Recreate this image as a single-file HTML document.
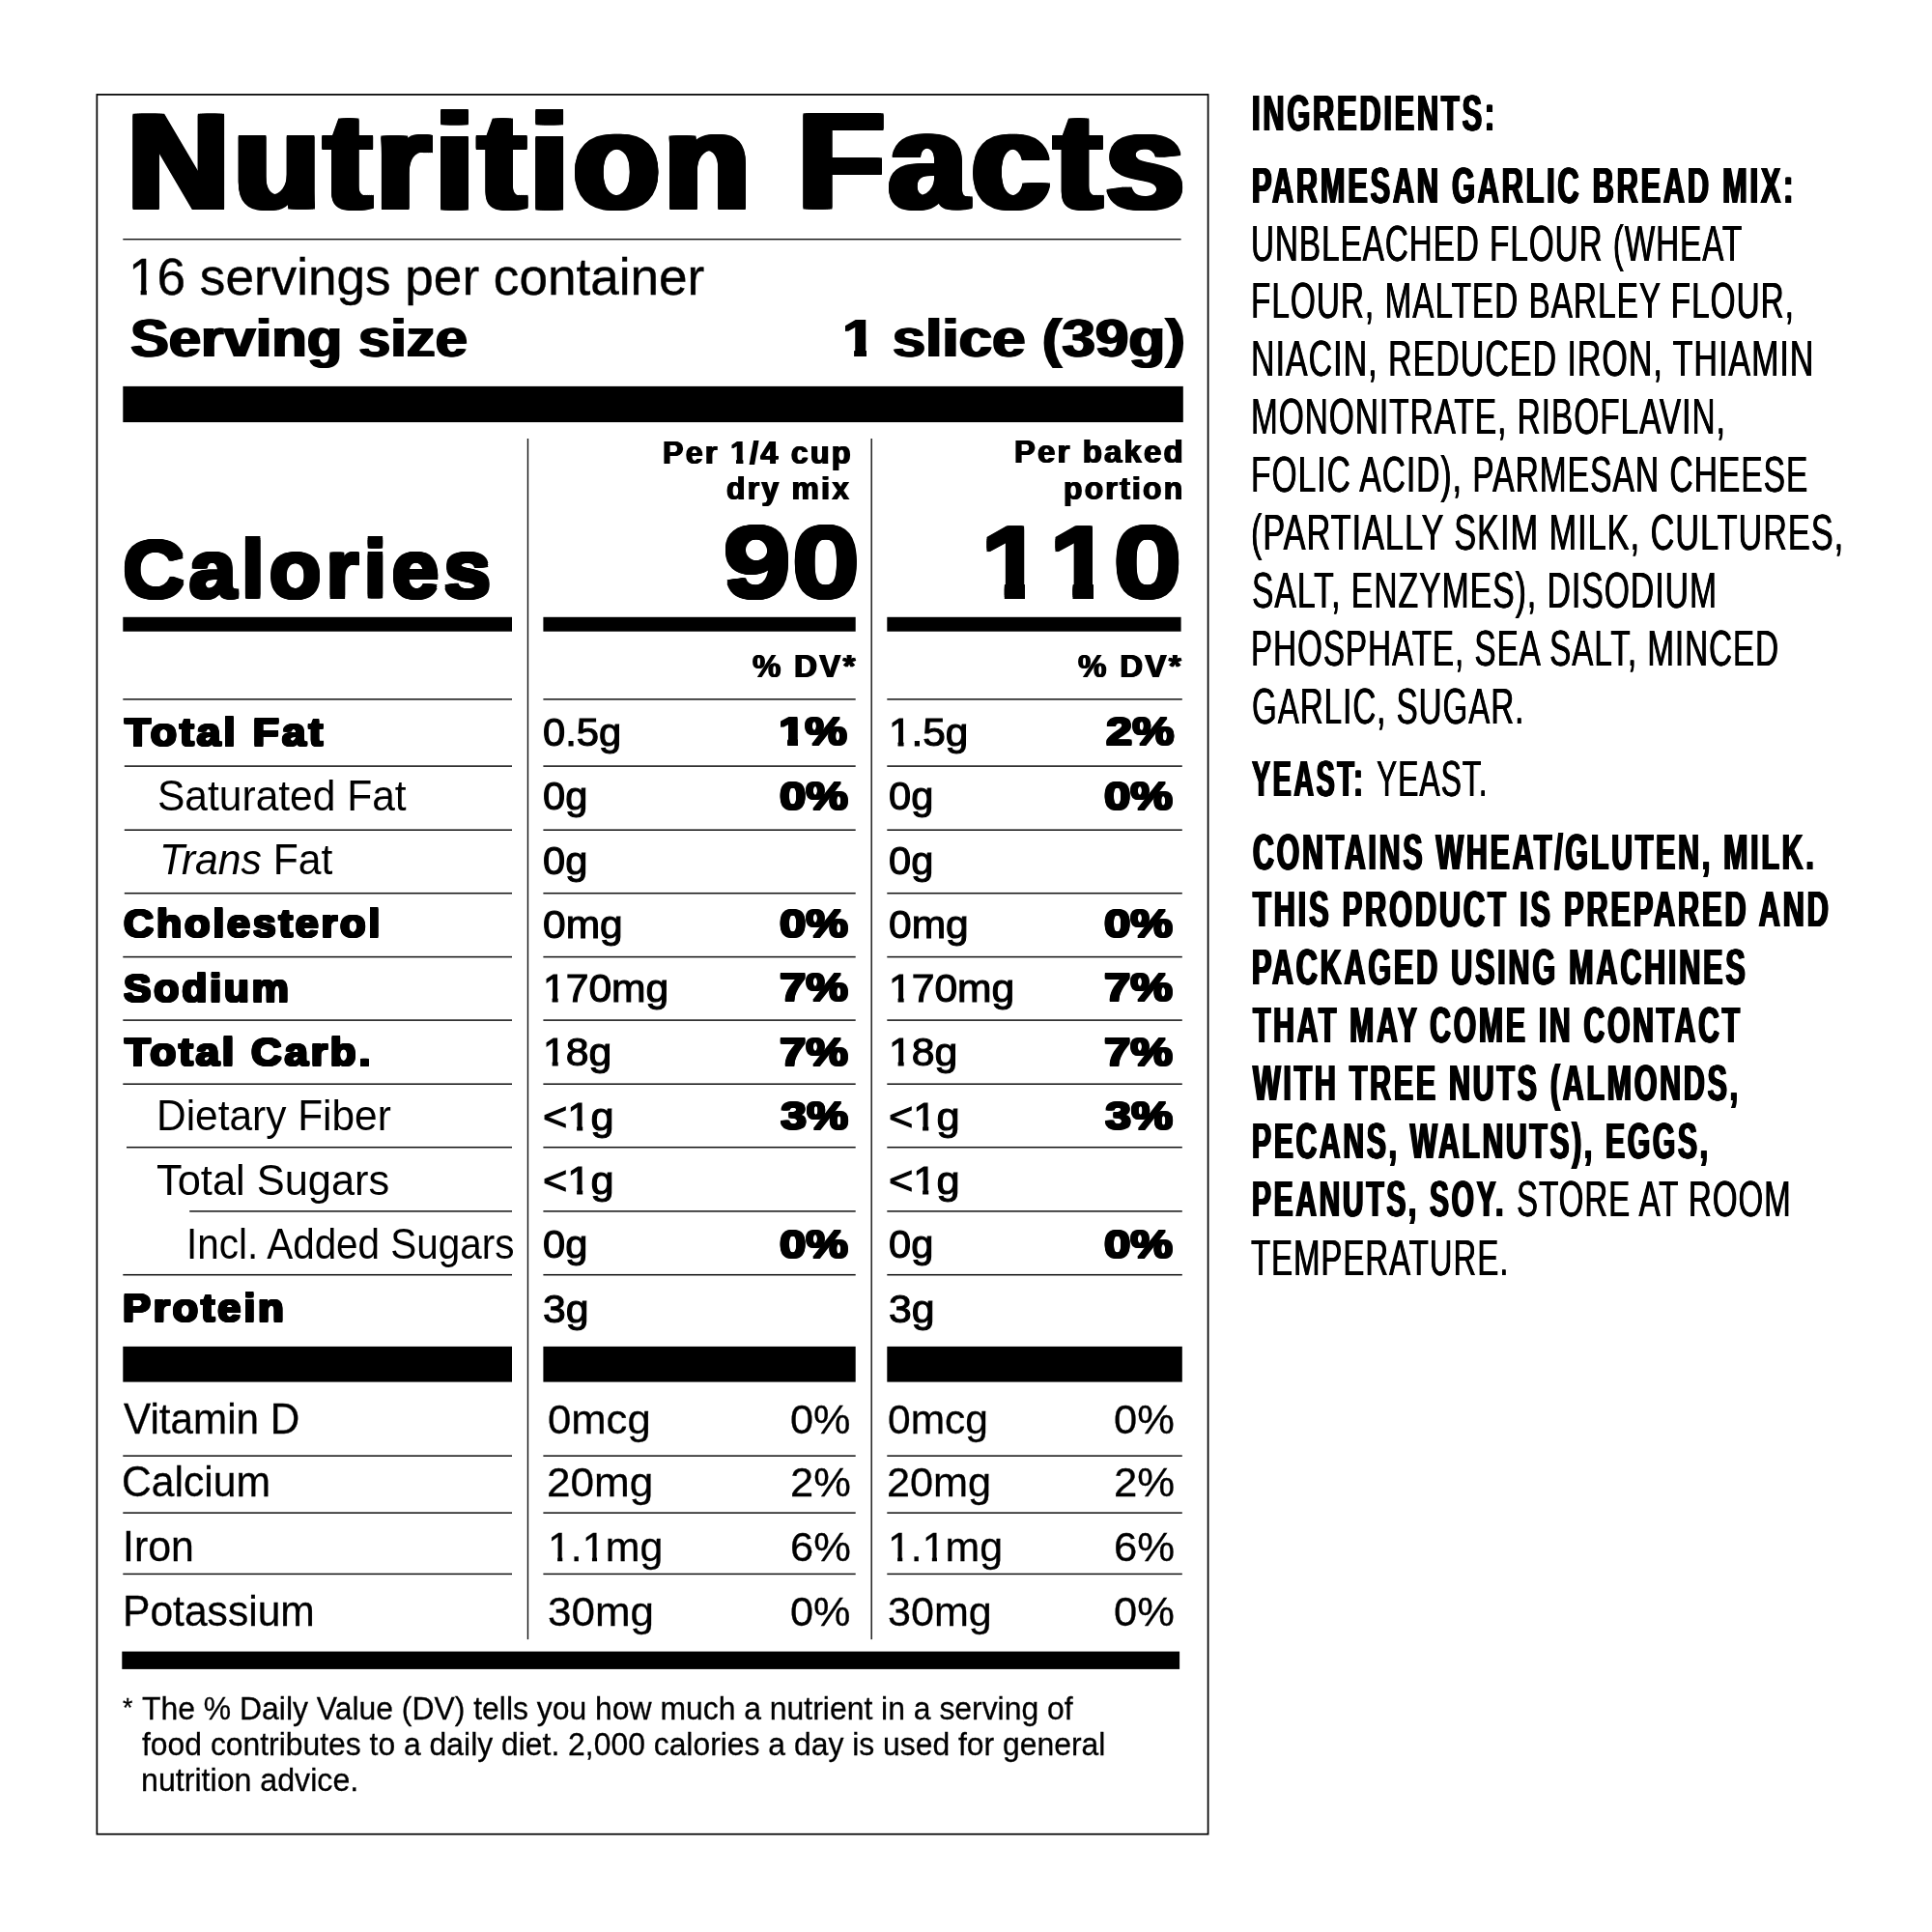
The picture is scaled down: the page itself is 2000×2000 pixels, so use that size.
<!DOCTYPE html>
<html><head><meta charset="utf-8"><title>Nutrition Facts</title>
<style>
html,body{margin:0;padding:0;background:#fff;}
body{width:2000px;height:2000px;position:relative;overflow:hidden;font-family:"Liberation Sans",sans-serif;color:#000;}
.t{position:absolute;line-height:1;white-space:pre;transform-origin:0 0;}
svg{position:absolute;left:0;top:0;}
#txt{position:absolute;left:0;top:0;width:2000px;height:2000px;will-change:transform;}
</style></head><body>
<svg width="2000" height="2000" viewBox="0 0 2000 2000">
<rect x="100.35" y="97.9" width="1150.25" height="1800.8" fill="none" stroke="#000" stroke-width="1.7"/>
<rect x="127.30" y="247.00" width="1095.30" height="1.40" fill="#111"/>
<rect x="127.30" y="399.90" width="1097.50" height="37.20" fill="#000"/>
<rect x="545.76" y="454.00" width="1.40" height="1243.10" fill="#111"/>
<rect x="901.50" y="454.00" width="1.40" height="1243.10" fill="#111"/>
<rect x="127.30" y="638.80" width="402.70" height="14.90" fill="#000"/>
<rect x="127.30" y="1393.90" width="402.70" height="36.70" fill="#000"/>
<rect x="562.40" y="638.80" width="323.30" height="14.90" fill="#000"/>
<rect x="562.40" y="1393.90" width="323.30" height="36.70" fill="#000"/>
<rect x="918.30" y="638.80" width="304.30" height="14.90" fill="#000"/>
<rect x="918.30" y="1393.90" width="305.50" height="36.70" fill="#000"/>
<rect x="127.30" y="723.15" width="402.70" height="1.50" fill="#111"/>
<rect x="562.40" y="723.15" width="323.30" height="1.50" fill="#111"/>
<rect x="918.30" y="723.15" width="305.50" height="1.50" fill="#111"/>
<rect x="128.80" y="792.35" width="401.20" height="1.50" fill="#111"/>
<rect x="562.40" y="792.35" width="323.30" height="1.50" fill="#111"/>
<rect x="918.30" y="792.35" width="305.50" height="1.50" fill="#111"/>
<rect x="128.80" y="858.45" width="401.20" height="1.50" fill="#111"/>
<rect x="562.40" y="858.45" width="323.30" height="1.50" fill="#111"/>
<rect x="918.30" y="858.45" width="305.50" height="1.50" fill="#111"/>
<rect x="128.80" y="923.95" width="401.20" height="1.50" fill="#111"/>
<rect x="562.40" y="923.95" width="323.30" height="1.50" fill="#111"/>
<rect x="918.30" y="923.95" width="305.50" height="1.50" fill="#111"/>
<rect x="127.30" y="989.85" width="402.70" height="1.50" fill="#111"/>
<rect x="562.40" y="989.85" width="323.30" height="1.50" fill="#111"/>
<rect x="918.30" y="989.85" width="305.50" height="1.50" fill="#111"/>
<rect x="127.30" y="1055.35" width="402.70" height="1.50" fill="#111"/>
<rect x="562.40" y="1055.35" width="323.30" height="1.50" fill="#111"/>
<rect x="918.30" y="1055.35" width="305.50" height="1.50" fill="#111"/>
<rect x="127.30" y="1121.45" width="402.70" height="1.50" fill="#111"/>
<rect x="562.40" y="1121.45" width="323.30" height="1.50" fill="#111"/>
<rect x="918.30" y="1121.45" width="305.50" height="1.50" fill="#111"/>
<rect x="131.00" y="1186.95" width="399.00" height="1.50" fill="#111"/>
<rect x="562.40" y="1186.95" width="323.30" height="1.50" fill="#111"/>
<rect x="918.30" y="1186.95" width="305.50" height="1.50" fill="#111"/>
<rect x="196.20" y="1253.15" width="333.80" height="1.50" fill="#111"/>
<rect x="562.40" y="1253.15" width="323.30" height="1.50" fill="#111"/>
<rect x="918.30" y="1253.15" width="305.50" height="1.50" fill="#111"/>
<rect x="127.30" y="1318.95" width="402.70" height="1.50" fill="#111"/>
<rect x="562.40" y="1318.95" width="323.30" height="1.50" fill="#111"/>
<rect x="918.30" y="1318.95" width="305.50" height="1.50" fill="#111"/>
<rect x="127.30" y="1506.35" width="402.70" height="1.50" fill="#111"/>
<rect x="562.40" y="1506.35" width="323.30" height="1.50" fill="#111"/>
<rect x="918.30" y="1506.35" width="305.50" height="1.50" fill="#111"/>
<rect x="127.30" y="1565.35" width="402.70" height="1.50" fill="#111"/>
<rect x="562.40" y="1565.35" width="323.30" height="1.50" fill="#111"/>
<rect x="918.30" y="1565.35" width="305.50" height="1.50" fill="#111"/>
<rect x="127.30" y="1628.65" width="402.70" height="1.50" fill="#111"/>
<rect x="562.40" y="1628.65" width="323.30" height="1.50" fill="#111"/>
<rect x="918.30" y="1628.65" width="305.50" height="1.50" fill="#111"/>
<rect x="126.30" y="1709.60" width="1094.80" height="18.30" fill="#000"/>
</svg>
<div id="txt">
<span class="t" style="left:132.46px;top:96.90px;font-weight:700;font-size:140.95px;text-shadow:-4.10px -1px 0 #000,-4.10px 0px 0 #000,-4.10px 1px 0 #000,-2.05px -1px 0 #000,-2.05px 0px 0 #000,-2.05px 1px 0 #000,0.00px -1px 0 #000,0.00px 1px 0 #000,2.05px -1px 0 #000,2.05px 0px 0 #000,2.05px 1px 0 #000,4.10px -1px 0 #000,4.10px 0px 0 #000,4.10px 1px 0 #000;letter-spacing:0.030em;transform:scaleX(1.0383)">Nutrition Facts</span>
<span class="t" style="left:134.59px;top:321.91px;font-weight:700;font-size:56.15px;text-shadow:-1.20px 0px 0 #000,1.20px 0px 0 #000;transform:scaleX(1.0652)">Serving size</span>
<span class="t" style="left:871.86px;top:321.91px;font-weight:700;font-size:56.15px;text-shadow:-1.20px 0px 0 #000,1.20px 0px 0 #000;transform:scaleX(1.1041)"><span style="display:inline-block;clip-path:polygon(-1em -1em,3em -1em,3em calc(0.7025em - 1.00px),calc(0.3750em + 1.50px) calc(0.7025em - 1.00px),calc(0.3750em + 1.50px) 3em,calc(0.2275em - 1.50px) 3em,calc(0.2275em - 1.50px) calc(0.7025em - 1.00px),-1em calc(0.7025em - 1.00px))">1</span> slice (39g)</span>
<span class="t" style="left:126.62px;top:548.02px;font-weight:700;font-size:83.05px;text-shadow:-1.60px -2px 0 #000,-1.60px 0px 0 #000,-1.60px 2px 0 #000,-0.80px -2px 0 #000,-0.80px 0px 0 #000,-0.80px 2px 0 #000,0.00px -2px 0 #000,0.00px 2px 0 #000,0.80px -2px 0 #000,0.80px 0px 0 #000,0.80px 2px 0 #000,1.60px -2px 0 #000,1.60px 0px 0 #000,1.60px 2px 0 #000;letter-spacing:0.050em;transform:scaleX(1.0690)">Calories</span>
<span class="t" style="left:748.02px;top:530.94px;font-weight:700;font-size:103.85px;text-shadow:-1.30px -2px 0 #000,-1.30px 0px 0 #000,-1.30px 2px 0 #000,-0.65px -2px 0 #000,-0.65px 0px 0 #000,-0.65px 2px 0 #000,0.00px -2px 0 #000,0.00px 2px 0 #000,0.65px -2px 0 #000,0.65px 0px 0 #000,0.65px 2px 0 #000,1.30px -2px 0 #000,1.30px 0px 0 #000,1.30px 2px 0 #000;transform:scaleX(1.2335)">90</span>
<span class="t" style="left:1014.63px;top:530.94px;font-weight:700;font-size:103.85px;text-shadow:-1.30px -2px 0 #000,-1.30px 0px 0 #000,-1.30px 2px 0 #000,-0.65px -2px 0 #000,-0.65px 0px 0 #000,-0.65px 2px 0 #000,0.00px -2px 0 #000,0.00px 2px 0 #000,0.65px -2px 0 #000,0.65px 0px 0 #000,0.65px 2px 0 #000,1.30px -2px 0 #000,1.30px 0px 0 #000,1.30px 2px 0 #000;transform:scaleX(1.1329)"><span style="display:inline-block;clip-path:polygon(-1em -1em,3em -1em,3em calc(0.7025em - 3.00px),calc(0.3750em + 1.60px) calc(0.7025em - 3.00px),calc(0.3750em + 1.60px) 3em,calc(0.2275em - 1.60px) 3em,calc(0.2275em - 1.60px) calc(0.7025em - 3.00px),-1em calc(0.7025em - 3.00px))">1</span></span>
<span class="t" style="left:1085.60px;top:530.94px;font-weight:700;font-size:103.85px;text-shadow:-1.30px -2px 0 #000,-1.30px 0px 0 #000,-1.30px 2px 0 #000,-0.65px -2px 0 #000,-0.65px 0px 0 #000,-0.65px 2px 0 #000,0.00px -2px 0 #000,0.00px 2px 0 #000,0.65px -2px 0 #000,0.65px 0px 0 #000,0.65px 2px 0 #000,1.30px -2px 0 #000,1.30px 0px 0 #000,1.30px 2px 0 #000;transform:scaleX(1.1286)"><span style="display:inline-block;clip-path:polygon(-1em -1em,3em -1em,3em calc(0.7025em - 3.00px),calc(0.3750em + 1.60px) calc(0.7025em - 3.00px),calc(0.3750em + 1.60px) 3em,calc(0.2275em - 1.60px) 3em,calc(0.2275em - 1.60px) calc(0.7025em - 3.00px),-1em calc(0.7025em - 3.00px))">1</span></span>
<span class="t" style="left:1152.18px;top:530.94px;font-weight:700;font-size:103.85px;text-shadow:-1.30px -2px 0 #000,-1.30px 0px 0 #000,-1.30px 2px 0 #000,-0.65px -2px 0 #000,-0.65px 0px 0 #000,-0.65px 2px 0 #000,0.00px -2px 0 #000,0.00px 2px 0 #000,0.65px -2px 0 #000,0.65px 0px 0 #000,0.65px 2px 0 #000,1.30px -2px 0 #000,1.30px 0px 0 #000,1.30px 2px 0 #000;transform:scaleX(1.2459)">0</span>
<span class="t" style="left:686.10px;top:451.83px;font-weight:700;font-size:33.16px;text-shadow:-0.85px 0px 0 #000,0.85px 0px 0 #000;letter-spacing:0.070em;transform:scaleX(0.9721)">Per <span style="display:inline-block;clip-path:polygon(-1em -1em,3em -1em,3em calc(0.7025em - 1.00px),calc(0.3750em + 1.15px) calc(0.7025em - 1.00px),calc(0.3750em + 1.15px) 3em,calc(0.2275em - 1.15px) 3em,calc(0.2275em - 1.15px) calc(0.7025em - 1.00px),-1em calc(0.7025em - 1.00px))">1</span>/4 cup</span>
<span class="t" style="left:752.36px;top:488.83px;font-weight:700;font-size:33.16px;text-shadow:-0.85px 0px 0 #000,0.85px 0px 0 #000;letter-spacing:0.070em;transform:scaleX(0.9630)">dry mix</span>
<span class="t" style="left:1049.89px;top:450.98px;font-weight:700;font-size:33.16px;text-shadow:-0.85px 0px 0 #000,0.85px 0px 0 #000;letter-spacing:0.070em;transform:scaleX(0.9855)">Per baked</span>
<span class="t" style="left:1100.82px;top:488.93px;font-weight:700;font-size:33.16px;text-shadow:-0.85px 0px 0 #000,0.85px 0px 0 #000;letter-spacing:0.070em;transform:scaleX(0.9621)">portion</span>
<span class="t" style="left:778.50px;top:673.80px;font-weight:700;font-size:32.73px;text-shadow:-0.85px 0px 0 #000,0.85px 0px 0 #000;letter-spacing:0.070em;transform:scaleX(1.0082)">% DV*</span>
<span class="t" style="left:1116.00px;top:673.80px;font-weight:700;font-size:32.73px;text-shadow:-0.85px 0px 0 #000,0.85px 0px 0 #000;letter-spacing:0.070em;transform:scaleX(1.0110)">% DV*</span>
<span class="t" style="left:129.07px;top:736.92px;font-weight:700;font-size:41.45px;text-shadow:-1.25px -1px 0 #000,-1.25px 0px 0 #000,-1.25px 1px 0 #000,-0.62px -1px 0 #000,-0.62px 0px 0 #000,-0.62px 1px 0 #000,0.00px -1px 0 #000,0.00px 1px 0 #000,0.62px -1px 0 #000,0.62px 0px 0 #000,0.62px 1px 0 #000,1.25px -1px 0 #000,1.25px 0px 0 #000,1.25px 1px 0 #000;letter-spacing:0.065em;transform:scaleX(1.0741)">Total Fat</span>
<span class="t" style="left:127.55px;top:935.17px;font-weight:700;font-size:41.45px;text-shadow:-1.25px -1px 0 #000,-1.25px 0px 0 #000,-1.25px 1px 0 #000,-0.62px -1px 0 #000,-0.62px 0px 0 #000,-0.62px 1px 0 #000,0.00px -1px 0 #000,0.00px 1px 0 #000,0.62px -1px 0 #000,0.62px 0px 0 #000,0.62px 1px 0 #000,1.25px -1px 0 #000,1.25px 0px 0 #000,1.25px 1px 0 #000;letter-spacing:0.065em;transform:scaleX(1.0407)">Cholesterol</span>
<span class="t" style="left:127.90px;top:1001.87px;font-weight:700;font-size:41.45px;text-shadow:-1.25px -1px 0 #000,-1.25px 0px 0 #000,-1.25px 1px 0 #000,-0.62px -1px 0 #000,-0.62px 0px 0 #000,-0.62px 1px 0 #000,0.00px -1px 0 #000,0.00px 1px 0 #000,0.62px -1px 0 #000,0.62px 0px 0 #000,0.62px 1px 0 #000,1.25px -1px 0 #000,1.25px 0px 0 #000,1.25px 1px 0 #000;letter-spacing:0.065em;transform:scaleX(1.0320)">Sodium</span>
<span class="t" style="left:128.96px;top:1067.77px;font-weight:700;font-size:41.45px;text-shadow:-1.25px -1px 0 #000,-1.25px 0px 0 #000,-1.25px 1px 0 #000,-0.62px -1px 0 #000,-0.62px 0px 0 #000,-0.62px 1px 0 #000,0.00px -1px 0 #000,0.00px 1px 0 #000,0.62px -1px 0 #000,0.62px 0px 0 #000,0.62px 1px 0 #000,1.25px -1px 0 #000,1.25px 0px 0 #000,1.25px 1px 0 #000;letter-spacing:0.065em;transform:scaleX(1.0598)">Total Carb.</span>
<span class="t" style="left:127.40px;top:1332.97px;font-weight:700;font-size:41.45px;text-shadow:-1.25px -1px 0 #000,-1.25px 0px 0 #000,-1.25px 1px 0 #000,-0.62px -1px 0 #000,-0.62px 0px 0 #000,-0.62px 1px 0 #000,0.00px -1px 0 #000,0.00px 1px 0 #000,0.62px -1px 0 #000,0.62px 0px 0 #000,0.62px 1px 0 #000,1.25px -1px 0 #000,1.25px 0px 0 #000,1.25px 1px 0 #000;letter-spacing:0.065em;transform:scaleX(1.0490)">Protein</span>
<span class="t" style="left:805.91px;top:736.87px;font-weight:700;font-size:41.16px;text-shadow:-1.00px -1px 0 #000,-1.00px 0px 0 #000,-1.00px 1px 0 #000,0.00px -1px 0 #000,0.00px 1px 0 #000,1.00px -1px 0 #000,1.00px 0px 0 #000,1.00px 1px 0 #000;transform:scaleX(1.1913)"><span style="display:inline-block;clip-path:polygon(-1em -1em,3em -1em,3em calc(0.7025em - 2.00px),calc(0.3750em + 1.30px) calc(0.7025em - 2.00px),calc(0.3750em + 1.30px) 3em,calc(0.2275em - 1.30px) 3em,calc(0.2275em - 1.30px) calc(0.7025em - 2.00px),-1em calc(0.7025em - 2.00px))">1</span>%</span>
<span class="t" style="left:1145.10px;top:736.87px;font-weight:700;font-size:41.16px;text-shadow:-1.00px -1px 0 #000,-1.00px 0px 0 #000,-1.00px 1px 0 #000,0.00px -1px 0 #000,0.00px 1px 0 #000,1.00px -1px 0 #000,1.00px 0px 0 #000,1.00px 1px 0 #000;transform:scaleX(1.1864)">2%</span>
<span class="t" style="left:807.20px;top:803.77px;font-weight:700;font-size:41.16px;text-shadow:-1.00px -1px 0 #000,-1.00px 0px 0 #000,-1.00px 1px 0 #000,0.00px -1px 0 #000,0.00px 1px 0 #000,1.00px -1px 0 #000,1.00px 0px 0 #000,1.00px 1px 0 #000;transform:scaleX(1.1932)">0%</span>
<span class="t" style="left:1143.20px;top:803.77px;font-weight:700;font-size:41.16px;text-shadow:-1.00px -1px 0 #000,-1.00px 0px 0 #000,-1.00px 1px 0 #000,0.00px -1px 0 #000,0.00px 1px 0 #000,1.00px -1px 0 #000,1.00px 0px 0 #000,1.00px 1px 0 #000;transform:scaleX(1.1932)">0%</span>
<span class="t" style="left:807.20px;top:935.97px;font-weight:700;font-size:41.16px;text-shadow:-1.00px -1px 0 #000,-1.00px 0px 0 #000,-1.00px 1px 0 #000,0.00px -1px 0 #000,0.00px 1px 0 #000,1.00px -1px 0 #000,1.00px 0px 0 #000,1.00px 1px 0 #000;transform:scaleX(1.1932)">0%</span>
<span class="t" style="left:1143.20px;top:935.97px;font-weight:700;font-size:41.16px;text-shadow:-1.00px -1px 0 #000,-1.00px 0px 0 #000,-1.00px 1px 0 #000,0.00px -1px 0 #000,0.00px 1px 0 #000,1.00px -1px 0 #000,1.00px 0px 0 #000,1.00px 1px 0 #000;transform:scaleX(1.1932)">0%</span>
<span class="t" style="left:807.20px;top:1001.92px;font-weight:700;font-size:41.16px;text-shadow:-1.00px -1px 0 #000,-1.00px 0px 0 #000,-1.00px 1px 0 #000,0.00px -1px 0 #000,0.00px 1px 0 #000,1.00px -1px 0 #000,1.00px 0px 0 #000,1.00px 1px 0 #000;transform:scaleX(1.1932)">7%</span>
<span class="t" style="left:1143.20px;top:1001.92px;font-weight:700;font-size:41.16px;text-shadow:-1.00px -1px 0 #000,-1.00px 0px 0 #000,-1.00px 1px 0 #000,0.00px -1px 0 #000,0.00px 1px 0 #000,1.00px -1px 0 #000,1.00px 0px 0 #000,1.00px 1px 0 #000;transform:scaleX(1.1932)">7%</span>
<span class="t" style="left:807.20px;top:1068.82px;font-weight:700;font-size:41.16px;text-shadow:-1.00px -1px 0 #000,-1.00px 0px 0 #000,-1.00px 1px 0 #000,0.00px -1px 0 #000,0.00px 1px 0 #000,1.00px -1px 0 #000,1.00px 0px 0 #000,1.00px 1px 0 #000;transform:scaleX(1.1932)">7%</span>
<span class="t" style="left:1143.20px;top:1068.82px;font-weight:700;font-size:41.16px;text-shadow:-1.00px -1px 0 #000,-1.00px 0px 0 #000,-1.00px 1px 0 #000,0.00px -1px 0 #000,0.00px 1px 0 #000,1.00px -1px 0 #000,1.00px 0px 0 #000,1.00px 1px 0 #000;transform:scaleX(1.1932)">7%</span>
<span class="t" style="left:808.00px;top:1134.92px;font-weight:700;font-size:41.16px;text-shadow:-1.00px -1px 0 #000,-1.00px 0px 0 #000,-1.00px 1px 0 #000,0.00px -1px 0 #000,0.00px 1px 0 #000,1.00px -1px 0 #000,1.00px 0px 0 #000,1.00px 1px 0 #000;transform:scaleX(1.1798)">3%</span>
<span class="t" style="left:1144.00px;top:1134.92px;font-weight:700;font-size:41.16px;text-shadow:-1.00px -1px 0 #000,-1.00px 0px 0 #000,-1.00px 1px 0 #000,0.00px -1px 0 #000,0.00px 1px 0 #000,1.00px -1px 0 #000,1.00px 0px 0 #000,1.00px 1px 0 #000;transform:scaleX(1.1798)">3%</span>
<span class="t" style="left:807.20px;top:1267.82px;font-weight:700;font-size:41.16px;text-shadow:-1.00px -1px 0 #000,-1.00px 0px 0 #000,-1.00px 1px 0 #000,0.00px -1px 0 #000,0.00px 1px 0 #000,1.00px -1px 0 #000,1.00px 0px 0 #000,1.00px 1px 0 #000;transform:scaleX(1.1932)">0%</span>
<span class="t" style="left:1143.20px;top:1267.82px;font-weight:700;font-size:41.16px;text-shadow:-1.00px -1px 0 #000,-1.00px 0px 0 #000,-1.00px 1px 0 #000,0.00px -1px 0 #000,0.00px 1px 0 #000,1.00px -1px 0 #000,1.00px 0px 0 #000,1.00px 1px 0 #000;transform:scaleX(1.1932)">0%</span>
<span class="t" style="left:133.15px;top:259.79px;font-weight:400;font-size:53.09px;-webkit-text-stroke:0.40px #000;transform:scaleX(1.0005)"><span style="display:inline-block;clip-path:polygon(-1em -1em,3em -1em,3em calc(0.7300em - 1.20px),calc(0.3450em + 0.50px) calc(0.7300em - 1.20px),calc(0.3450em + 0.50px) 3em,calc(0.2475em - 0.50px) 3em,calc(0.2475em - 0.50px) calc(0.7300em - 1.20px),-1em calc(0.7300em - 1.20px))">1</span>6 servings per container</span>
<span class="t" style="left:162.56px;top:801.98px;font-weight:400;font-size:43.93px;transform:scaleX(0.9683)">Saturated Fat</span>
<span class="t" style="left:165.02px;top:867.98px;font-weight:400;font-size:43.93px;transform:scaleX(0.9710)"><i>Trans</i> Fat</span>
<span class="t" style="left:162.46px;top:1132.78px;font-weight:400;font-size:43.93px;transform:scaleX(0.9660)">Dietary Fiber</span>
<span class="t" style="left:162.31px;top:1199.78px;font-weight:400;font-size:43.93px;transform:scaleX(0.9881)">Total Sugars</span>
<span class="t" style="left:192.52px;top:1265.93px;font-weight:400;font-size:43.93px;transform:scaleX(0.9207)">Incl. Added Sugars</span>
<span class="t" style="left:562.18px;top:737.76px;font-weight:400;font-size:40.87px;-webkit-text-stroke:1.10px #000;transform:scaleX(1.0213)">0.5g</span>
<span class="t" style="left:919.80px;top:737.76px;font-weight:400;font-size:40.87px;-webkit-text-stroke:1.10px #000;transform:scaleX(1.0359)"><span style="display:inline-block;clip-path:polygon(-1em -1em,3em -1em,3em calc(0.7300em - 1.55px),calc(0.3450em + 0.85px) calc(0.7300em - 1.55px),calc(0.3450em + 0.85px) 3em,calc(0.2475em - 0.85px) 3em,calc(0.2475em - 0.85px) calc(0.7300em - 1.55px),-1em calc(0.7300em - 1.55px))">1</span>.5g</span>
<span class="t" style="left:562.18px;top:803.91px;font-weight:400;font-size:40.87px;-webkit-text-stroke:1.10px #000;transform:scaleX(1.0181)">0g</span>
<span class="t" style="left:919.83px;top:803.91px;font-weight:400;font-size:40.87px;-webkit-text-stroke:1.10px #000;transform:scaleX(1.0181)">0g</span>
<span class="t" style="left:562.18px;top:870.76px;font-weight:400;font-size:40.87px;-webkit-text-stroke:1.10px #000;transform:scaleX(1.0181)">0g</span>
<span class="t" style="left:919.83px;top:870.76px;font-weight:400;font-size:40.87px;-webkit-text-stroke:1.10px #000;transform:scaleX(1.0181)">0g</span>
<span class="t" style="left:562.16px;top:936.86px;font-weight:400;font-size:40.87px;-webkit-text-stroke:1.10px #000;transform:scaleX(1.0415)">0mg</span>
<span class="t" style="left:919.81px;top:936.86px;font-weight:400;font-size:40.87px;-webkit-text-stroke:1.10px #000;transform:scaleX(1.0415)">0mg</span>
<span class="t" style="left:561.52px;top:1002.81px;font-weight:400;font-size:40.87px;-webkit-text-stroke:1.10px #000;transform:scaleX(1.0429)"><span style="display:inline-block;clip-path:polygon(-1em -1em,3em -1em,3em calc(0.7300em - 1.55px),calc(0.3450em + 0.85px) calc(0.7300em - 1.55px),calc(0.3450em + 0.85px) 3em,calc(0.2475em - 0.85px) 3em,calc(0.2475em - 0.85px) calc(0.7300em - 1.55px),-1em calc(0.7300em - 1.55px))">1</span>70mg</span>
<span class="t" style="left:919.77px;top:1002.81px;font-weight:400;font-size:40.87px;-webkit-text-stroke:1.10px #000;transform:scaleX(1.0429)"><span style="display:inline-block;clip-path:polygon(-1em -1em,3em -1em,3em calc(0.7300em - 1.55px),calc(0.3450em + 0.85px) calc(0.7300em - 1.55px),calc(0.3450em + 0.85px) 3em,calc(0.2475em - 0.85px) 3em,calc(0.2475em - 0.85px) calc(0.7300em - 1.55px),-1em calc(0.7300em - 1.55px))">1</span>70mg</span>
<span class="t" style="left:561.51px;top:1068.96px;font-weight:400;font-size:40.87px;-webkit-text-stroke:1.10px #000;transform:scaleX(1.0476)"><span style="display:inline-block;clip-path:polygon(-1em -1em,3em -1em,3em calc(0.7300em - 1.55px),calc(0.3450em + 0.85px) calc(0.7300em - 1.55px),calc(0.3450em + 0.85px) 3em,calc(0.2475em - 0.85px) 3em,calc(0.2475em - 0.85px) calc(0.7300em - 1.55px),-1em calc(0.7300em - 1.55px))">1</span>8g</span>
<span class="t" style="left:919.76px;top:1068.96px;font-weight:400;font-size:40.87px;-webkit-text-stroke:1.10px #000;transform:scaleX(1.0476)"><span style="display:inline-block;clip-path:polygon(-1em -1em,3em -1em,3em calc(0.7300em - 1.55px),calc(0.3450em + 0.85px) calc(0.7300em - 1.55px),calc(0.3450em + 0.85px) 3em,calc(0.2475em - 0.85px) 3em,calc(0.2475em - 0.85px) calc(0.7300em - 1.55px),-1em calc(0.7300em - 1.55px))">1</span>8g</span>
<span class="t" style="left:561.89px;top:1135.81px;font-weight:400;font-size:40.87px;-webkit-text-stroke:1.10px #000;transform:scaleX(1.0606)">&lt;<span style="display:inline-block;clip-path:polygon(-1em -1em,3em -1em,3em calc(0.7300em - 1.55px),calc(0.3450em + 0.85px) calc(0.7300em - 1.55px),calc(0.3450em + 0.85px) 3em,calc(0.2475em - 0.85px) 3em,calc(0.2475em - 0.85px) calc(0.7300em - 1.55px),-1em calc(0.7300em - 1.55px))">1</span>g</span>
<span class="t" style="left:919.54px;top:1135.81px;font-weight:400;font-size:40.87px;-webkit-text-stroke:1.10px #000;transform:scaleX(1.0606)">&lt;<span style="display:inline-block;clip-path:polygon(-1em -1em,3em -1em,3em calc(0.7300em - 1.55px),calc(0.3450em + 0.85px) calc(0.7300em - 1.55px),calc(0.3450em + 0.85px) 3em,calc(0.2475em - 0.85px) 3em,calc(0.2475em - 0.85px) calc(0.7300em - 1.55px),-1em calc(0.7300em - 1.55px))">1</span>g</span>
<span class="t" style="left:561.89px;top:1201.81px;font-weight:400;font-size:40.87px;-webkit-text-stroke:1.10px #000;transform:scaleX(1.0606)">&lt;<span style="display:inline-block;clip-path:polygon(-1em -1em,3em -1em,3em calc(0.7300em - 1.55px),calc(0.3450em + 0.85px) calc(0.7300em - 1.55px),calc(0.3450em + 0.85px) 3em,calc(0.2475em - 0.85px) 3em,calc(0.2475em - 0.85px) calc(0.7300em - 1.55px),-1em calc(0.7300em - 1.55px))">1</span>g</span>
<span class="t" style="left:919.54px;top:1201.81px;font-weight:400;font-size:40.87px;-webkit-text-stroke:1.10px #000;transform:scaleX(1.0606)">&lt;<span style="display:inline-block;clip-path:polygon(-1em -1em,3em -1em,3em calc(0.7300em - 1.55px),calc(0.3450em + 0.85px) calc(0.7300em - 1.55px),calc(0.3450em + 0.85px) 3em,calc(0.2475em - 0.85px) 3em,calc(0.2475em - 0.85px) calc(0.7300em - 1.55px),-1em calc(0.7300em - 1.55px))">1</span>g</span>
<span class="t" style="left:562.18px;top:1267.96px;font-weight:400;font-size:40.87px;-webkit-text-stroke:1.10px #000;transform:scaleX(1.0181)">0g</span>
<span class="t" style="left:919.83px;top:1267.96px;font-weight:400;font-size:40.87px;-webkit-text-stroke:1.10px #000;transform:scaleX(1.0181)">0g</span>
<span class="t" style="left:562.15px;top:1334.91px;font-weight:400;font-size:40.87px;-webkit-text-stroke:1.10px #000;transform:scaleX(1.0465)">3g</span>
<span class="t" style="left:919.80px;top:1334.91px;font-weight:400;font-size:40.87px;-webkit-text-stroke:1.10px #000;transform:scaleX(1.0465)">3g</span>
<span class="t" style="left:127.90px;top:1446.80px;font-weight:400;font-size:43.78px;-webkit-text-stroke:0.30px #000;transform:scaleX(0.9647)">Vitamin D</span>
<span class="t" style="left:126.45px;top:1511.95px;font-weight:400;font-size:43.78px;-webkit-text-stroke:0.30px #000;transform:scaleX(0.9750)">Calcium</span>
<span class="t" style="left:126.69px;top:1578.75px;font-weight:400;font-size:43.78px;-webkit-text-stroke:0.30px #000;transform:scaleX(0.9786)">Iron</span>
<span class="t" style="left:126.66px;top:1645.90px;font-weight:400;font-size:43.78px;-webkit-text-stroke:0.30px #000;transform:scaleX(0.9731)">Potassium</span>
<span class="t" style="left:566.58px;top:1448.78px;font-weight:400;font-size:42.33px;-webkit-text-stroke:0.30px #000;transform:scaleX(1.0309)">0mcg</span>
<span class="t" style="left:818.10px;top:1448.78px;font-weight:400;font-size:42.33px;-webkit-text-stroke:0.30px #000;transform:scaleX(1.0207)">0%</span>
<span class="t" style="left:918.73px;top:1448.78px;font-weight:400;font-size:42.33px;-webkit-text-stroke:0.30px #000;transform:scaleX(1.0037)">0mcg</span>
<span class="t" style="left:1153.19px;top:1448.78px;font-weight:400;font-size:42.33px;-webkit-text-stroke:0.30px #000;transform:scaleX(1.0259)">0%</span>
<span class="t" style="left:566.22px;top:1513.93px;font-weight:400;font-size:42.33px;-webkit-text-stroke:0.30px #000;transform:scaleX(1.0421)">20mg</span>
<span class="t" style="left:817.75px;top:1513.93px;font-weight:400;font-size:42.33px;-webkit-text-stroke:0.30px #000;transform:scaleX(1.0266)">2%</span>
<span class="t" style="left:918.36px;top:1513.93px;font-weight:400;font-size:42.33px;-webkit-text-stroke:0.30px #000;transform:scaleX(1.0214)">20mg</span>
<span class="t" style="left:1152.84px;top:1513.93px;font-weight:400;font-size:42.33px;-webkit-text-stroke:0.30px #000;transform:scaleX(1.0318)">2%</span>
<span class="t" style="left:566.65px;top:1580.98px;font-weight:400;font-size:42.33px;-webkit-text-stroke:0.30px #000;transform:scaleX(1.0135)"><span style="display:inline-block;clip-path:polygon(-1em -1em,3em -1em,3em calc(0.7300em - 1.15px),calc(0.3450em + 0.45px) calc(0.7300em - 1.15px),calc(0.3450em + 0.45px) 3em,calc(0.2475em - 0.45px) 3em,calc(0.2475em - 0.45px) calc(0.7300em - 1.15px),-1em calc(0.7300em - 1.15px))">1</span>.<span style="display:inline-block;clip-path:polygon(-1em -1em,3em -1em,3em calc(0.7300em - 1.15px),calc(0.3450em + 0.45px) calc(0.7300em - 1.15px),calc(0.3450em + 0.45px) 3em,calc(0.2475em - 0.45px) 3em,calc(0.2475em - 0.45px) calc(0.7300em - 1.15px),-1em calc(0.7300em - 1.15px))">1</span>mg</span>
<span class="t" style="left:817.75px;top:1580.98px;font-weight:400;font-size:42.33px;-webkit-text-stroke:0.30px #000;transform:scaleX(1.0266)">6%</span>
<span class="t" style="left:918.95px;top:1580.98px;font-weight:400;font-size:42.33px;-webkit-text-stroke:0.30px #000;transform:scaleX(1.0117)"><span style="display:inline-block;clip-path:polygon(-1em -1em,3em -1em,3em calc(0.7300em - 1.15px),calc(0.3450em + 0.45px) calc(0.7300em - 1.15px),calc(0.3450em + 0.45px) 3em,calc(0.2475em - 0.45px) 3em,calc(0.2475em - 0.45px) calc(0.7300em - 1.15px),-1em calc(0.7300em - 1.15px))">1</span>.<span style="display:inline-block;clip-path:polygon(-1em -1em,3em -1em,3em calc(0.7300em - 1.15px),calc(0.3450em + 0.45px) calc(0.7300em - 1.15px),calc(0.3450em + 0.45px) 3em,calc(0.2475em - 0.45px) 3em,calc(0.2475em - 0.45px) calc(0.7300em - 1.15px),-1em calc(0.7300em - 1.15px))">1</span>mg</span>
<span class="t" style="left:1152.84px;top:1580.98px;font-weight:400;font-size:42.33px;-webkit-text-stroke:0.30px #000;transform:scaleX(1.0318)">6%</span>
<span class="t" style="left:566.57px;top:1647.88px;font-weight:400;font-size:42.33px;-webkit-text-stroke:0.30px #000;transform:scaleX(1.0387)">30mg</span>
<span class="t" style="left:818.10px;top:1647.88px;font-weight:400;font-size:42.33px;-webkit-text-stroke:0.30px #000;transform:scaleX(1.0207)">0%</span>
<span class="t" style="left:918.70px;top:1647.88px;font-weight:400;font-size:42.33px;-webkit-text-stroke:0.30px #000;transform:scaleX(1.0180)">30mg</span>
<span class="t" style="left:1153.19px;top:1647.88px;font-weight:400;font-size:42.33px;-webkit-text-stroke:0.30px #000;transform:scaleX(1.0259)">0%</span>
<span class="t" style="left:127.18px;top:1753.76px;font-weight:400;font-size:27.51px;-webkit-text-stroke:0.30px #000;transform:scaleX(0.9700)">*</span>
<span class="t" style="left:146.84px;top:1752.84px;font-weight:400;font-size:32.44px;-webkit-text-stroke:0.30px #000;transform:scaleX(0.9836)">The % Daily Value (DV) tells you how much a nutrient in a serving of</span>
<span class="t" style="left:147.17px;top:1789.89px;font-weight:400;font-size:32.44px;-webkit-text-stroke:0.30px #000;transform:scaleX(0.9829)">food contributes to a daily diet. 2,000 calories a day is used for general</span>
<span class="t" style="left:145.52px;top:1826.84px;font-weight:400;font-size:32.44px;-webkit-text-stroke:0.30px #000;transform:scaleX(0.9918)">nutrition advice.</span>
<span class="t" style="left:1295.81px;top:91.77px;font-weight:700;font-size:51.93px;text-shadow:-1.50px 0px 0 #000,-0.75px 0px 0 #000,0.75px 0px 0 #000,1.50px 0px 0 #000;letter-spacing:0.090em;transform:scaleX(0.5928)">INGREDIENTS:</span>
<span class="t" style="left:1295.82px;top:166.92px;font-weight:700;font-size:51.93px;text-shadow:-1.50px 0px 0 #000,-0.75px 0px 0 #000,0.75px 0px 0 #000,1.50px 0px 0 #000;letter-spacing:0.090em;transform:scaleX(0.5919)">PARMESAN GARLIC BREAD MIX:</span>
<span class="t" style="left:1294.87px;top:226.92px;font-weight:400;font-size:51.93px;text-shadow:-0.55px 0px 0 #000,0.55px 0px 0 #000;letter-spacing:0.030em;transform:scaleX(0.6393)">UNBLEACHED FLOUR (WHEAT</span>
<span class="t" style="left:1294.65px;top:285.87px;font-weight:400;font-size:51.93px;text-shadow:-0.55px 0px 0 #000,0.55px 0px 0 #000;letter-spacing:0.030em;transform:scaleX(0.6420)">FLOUR, MALTED BARLEY FLOUR,</span>
<span class="t" style="left:1294.60px;top:345.92px;font-weight:400;font-size:51.93px;text-shadow:-0.55px 0px 0 #000,0.55px 0px 0 #000;letter-spacing:0.030em;transform:scaleX(0.6538)">NIACIN, REDUCED IRON, THIAMIN</span>
<span class="t" style="left:1294.64px;top:405.92px;font-weight:400;font-size:51.93px;text-shadow:-0.55px 0px 0 #000,0.55px 0px 0 #000;letter-spacing:0.030em;transform:scaleX(0.6427)">MONONITRATE, RIBOFLAVIN,</span>
<span class="t" style="left:1294.63px;top:465.82px;font-weight:400;font-size:51.93px;text-shadow:-0.55px 0px 0 #000,0.55px 0px 0 #000;letter-spacing:0.030em;transform:scaleX(0.6460)">FOLIC ACID), PARMESAN CHEESE</span>
<span class="t" style="left:1294.64px;top:525.87px;font-weight:400;font-size:51.93px;text-shadow:-0.55px 0px 0 #000,0.55px 0px 0 #000;letter-spacing:0.030em;transform:scaleX(0.6589)">(PARTIALLY SKIM MILK, CULTURES,</span>
<span class="t" style="left:1295.70px;top:585.77px;font-weight:400;font-size:51.93px;text-shadow:-0.55px 0px 0 #000,0.55px 0px 0 #000;letter-spacing:0.030em;transform:scaleX(0.6486)">SALT, ENZYMES), DISODIUM</span>
<span class="t" style="left:1294.66px;top:645.82px;font-weight:400;font-size:51.93px;text-shadow:-0.55px 0px 0 #000,0.55px 0px 0 #000;letter-spacing:0.030em;transform:scaleX(0.6386)">PHOSPHATE, SEA SALT, MINCED</span>
<span class="t" style="left:1295.73px;top:705.77px;font-weight:400;font-size:51.93px;text-shadow:-0.55px 0px 0 #000,0.55px 0px 0 #000;letter-spacing:0.030em;transform:scaleX(0.6374)">GARLIC, SUGAR.</span>
<span class="t" style="left:1296.18px;top:780.97px;font-weight:700;font-size:51.93px;text-shadow:-1.50px 0px 0 #000,-0.75px 0px 0 #000,0.75px 0px 0 #000,1.50px 0px 0 #000;letter-spacing:0.090em;transform:scaleX(0.5517)">YEAST:</span>
<span class="t" style="left:1424.79px;top:780.97px;font-weight:400;font-size:51.93px;text-shadow:-0.55px 0px 0 #000,0.55px 0px 0 #000;letter-spacing:0.030em;transform:scaleX(0.6137)">YEAST.</span>
<span class="t" style="left:1296.61px;top:856.77px;font-weight:700;font-size:51.93px;text-shadow:-1.50px 0px 0 #000,-0.75px 0px 0 #000,0.75px 0px 0 #000,1.50px 0px 0 #000;letter-spacing:0.090em;transform:scaleX(0.5852)">CONTAINS WHEAT/GLUTEN, MILK.</span>
<span class="t" style="left:1297.09px;top:915.82px;font-weight:700;font-size:51.93px;text-shadow:-1.50px 0px 0 #000,-0.75px 0px 0 #000,0.75px 0px 0 #000,1.50px 0px 0 #000;letter-spacing:0.090em;transform:scaleX(0.5941)">THIS PRODUCT IS PREPARED AND</span>
<span class="t" style="left:1295.82px;top:975.87px;font-weight:700;font-size:51.93px;text-shadow:-1.50px 0px 0 #000,-0.75px 0px 0 #000,0.75px 0px 0 #000,1.50px 0px 0 #000;letter-spacing:0.090em;transform:scaleX(0.5895)">PACKAGED USING MACHINES</span>
<span class="t" style="left:1297.08px;top:1035.92px;font-weight:700;font-size:51.93px;text-shadow:-1.50px 0px 0 #000,-0.75px 0px 0 #000,0.75px 0px 0 #000,1.50px 0px 0 #000;letter-spacing:0.090em;transform:scaleX(0.5814)">THAT MAY COME IN CONTACT</span>
<span class="t" style="left:1296.78px;top:1095.97px;font-weight:700;font-size:51.93px;text-shadow:-1.50px 0px 0 #000,-0.75px 0px 0 #000,0.75px 0px 0 #000,1.50px 0px 0 #000;letter-spacing:0.090em;transform:scaleX(0.5855)">WITH TREE NUTS (ALMONDS,</span>
<span class="t" style="left:1295.84px;top:1155.87px;font-weight:700;font-size:51.93px;text-shadow:-1.50px 0px 0 #000,-0.75px 0px 0 #000,0.75px 0px 0 #000,1.50px 0px 0 #000;letter-spacing:0.090em;transform:scaleX(0.5790)">PECANS, WALNUTS), EGGS,</span>
<span class="t" style="left:1295.85px;top:1215.92px;font-weight:700;font-size:51.93px;text-shadow:-1.50px 0px 0 #000,-0.75px 0px 0 #000,0.75px 0px 0 #000,1.50px 0px 0 #000;letter-spacing:0.090em;transform:scaleX(0.5768)">PEANUTS, SOY.</span>
<span class="t" style="left:1569.83px;top:1215.92px;font-weight:400;font-size:51.93px;text-shadow:-0.55px 0px 0 #000,0.55px 0px 0 #000;letter-spacing:0.030em;transform:scaleX(0.6366)">STORE AT ROOM</span>
<span class="t" style="left:1294.58px;top:1276.97px;font-weight:400;font-size:51.93px;text-shadow:-0.55px 0px 0 #000,0.55px 0px 0 #000;letter-spacing:0.030em;transform:scaleX(0.6342)">TEMPERATURE.</span>
</div>
</body></html>
